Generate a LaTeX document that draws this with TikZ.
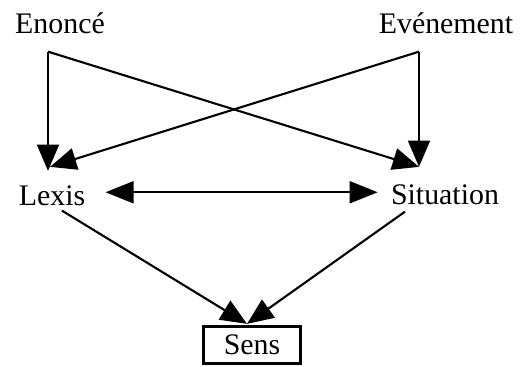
\documentclass[tikz,border=0pt]{standalone}
\usepackage{fontspec}
\setmainfont{Liberation Serif}
\usetikzlibrary{arrows.meta,calc}

\begin{document}
\begin{tikzpicture}[x=0.02cm,y=-0.02cm,
    font=\fontsize{17}{20}\selectfont,
    word/.style={inner sep=0pt,anchor=base},
    framed/.style={draw,line width=1.6pt,minimum width=1.95cm,minimum height=0.75cm,
                   inner sep=0pt},
    arr/.style={-{Triangle[length=15pt,width=12.5pt]},line width=1.2pt},
    biarr/.style={{Triangle[length=16pt,width=12.5pt]}-{Triangle[length=16pt,width=12.5pt]},
                  line width=1.2pt}]

  \useasboundingbox (0,0) rectangle (521,366);

  % the five terms
  \node[word] (enonce)    at (60,33)  {Enoncé};
  \node[word] (evenement) at (446,33) {Evénement};
  \node[word] (lexis)     at (52,205) {Lexis};
  \node[word] (situation) at (445,204) {Situation};
  \node[framed] (sens)    at (252,345) {Sens};

  % where the top lines start and the arrows land
  \coordinate (enFoot) at ($(enonce.south)+(-12,18)$);
  \coordinate (evFoot) at ($(evenement.south)+(-27,18)$);
  \coordinate (lxTip)  at ($(lexis.north)+(-4,-14)$);
  \coordinate (lxTip2) at ($(lexis.north)+(-2,-18)$);
  \coordinate (stTip)  at ($(situation.north)+(-26,-17)$);
  \coordinate (snTip)  at ($(sens.north)+(-5,-1)$);

  \draw[arr] (enFoot) -- (enFoot |- lxTip);
  \draw[arr] (enFoot) -- (stTip);
  \draw[arr] (evFoot) -- (evFoot |- stTip);
  \draw[arr] (evFoot) -- (lxTip2);

  \draw[biarr] ($(lexis.east)+(20,-3)$) -- ($(situation.west)+(-13,-2)$);

  \draw[arr] ($(lexis.south)+(10,5)$) -- (snTip);
  \draw[arr] ($(situation.south)+(-40,7)$) -- (snTip);
\end{tikzpicture}
\end{document}
